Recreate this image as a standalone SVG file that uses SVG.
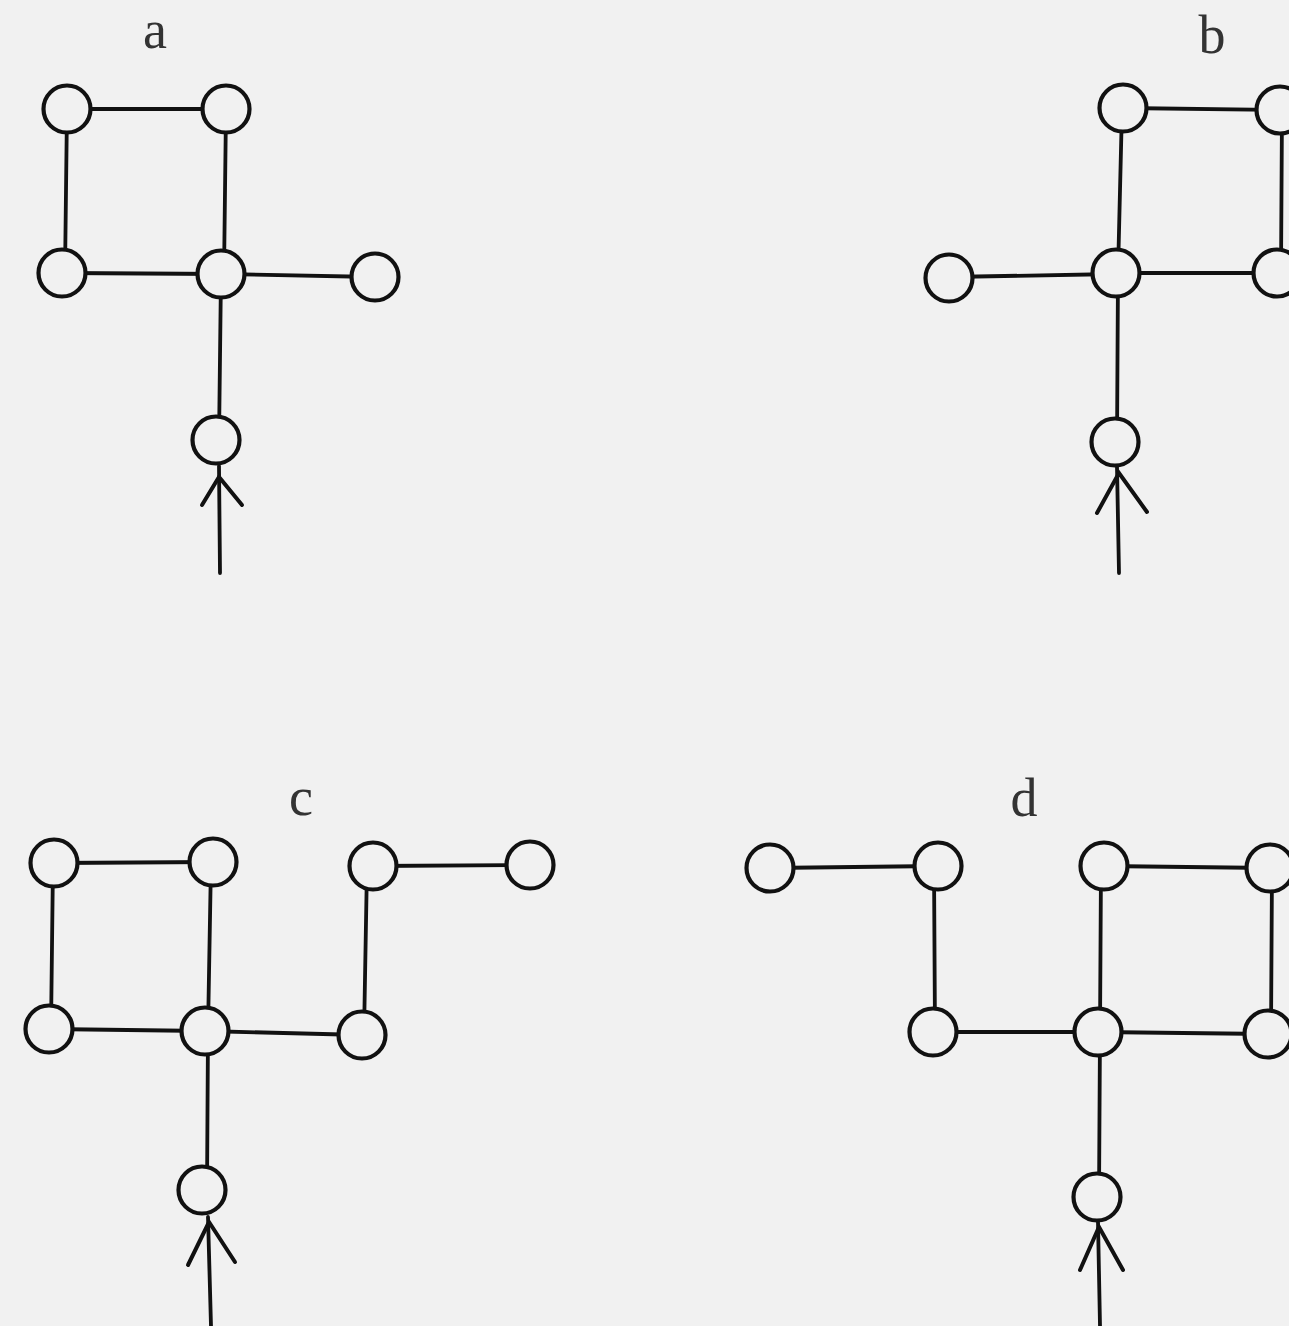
<svg xmlns="http://www.w3.org/2000/svg" width="1289" height="1326" viewBox="0 0 1289 1326">
<style>
.n{fill:#f1f1f1;stroke:#111;stroke-width:4.2}
.e{stroke:#111;stroke-width:3.8;fill:none;stroke-linecap:round}
.w{stroke:#111;stroke-width:4;fill:none;stroke-linecap:round;stroke-linejoin:miter}
.l{font-family:"Liberation Serif",serif;font-size:54px;fill:#333;text-anchor:middle}
</style>
<rect width="1289" height="1326" fill="#f1f1f1"/>
<g id="labels">
<text class="l" x="155" y="48">a</text>
<text class="l" x="1212" y="53">b</text>
<text class="l" x="301" y="815">c</text>
<text class="l" x="1024" y="816">d</text>
</g>
<g id="connectors">
<!-- a -->
<line class="e" x1="67" y1="109" x2="226" y2="109"/>
<line class="e" x1="67" y1="109" x2="65" y2="273"/>
<line class="e" x1="226" y1="109" x2="224" y2="274"/>
<line class="e" x1="64" y1="273" x2="222" y2="274"/>
<line class="e" x1="222" y1="274" x2="375" y2="277"/>
<line class="e" x1="221" y1="274" x2="219" y2="440"/>
<line class="e" x1="220" y1="573" x2="219" y2="466"/>
<polyline class="w" points="202,505 219,477 242,505"/>
<!-- b -->
<line class="e" x1="1123" y1="108" x2="1280" y2="110"/>
<line class="e" x1="1122" y1="108" x2="1118" y2="273"/>
<line class="e" x1="1282" y1="110" x2="1281" y2="273"/>
<line class="e" x1="949" y1="277" x2="1116" y2="274"/>
<line class="e" x1="1116" y1="273" x2="1277" y2="273"/>
<line class="e" x1="1118" y1="273" x2="1117" y2="442"/>
<line class="e" x1="1119" y1="573" x2="1117" y2="467"/>
<polyline class="w" points="1097,513 1119,473 1147,512"/>
<!-- c -->
<line class="e" x1="54" y1="863" x2="213" y2="862"/>
<line class="e" x1="53" y1="863" x2="51" y2="1029"/>
<line class="e" x1="211" y1="862" x2="208" y2="1031"/>
<line class="e" x1="373" y1="866" x2="530" y2="865"/>
<line class="e" x1="367" y1="866" x2="364" y2="1035"/>
<line class="e" x1="49" y1="1029" x2="205" y2="1031"/>
<line class="e" x1="205" y1="1031" x2="362" y2="1035"/>
<line class="e" x1="208" y1="1031" x2="207" y2="1190"/>
<line class="e" x1="211" y1="1326" x2="208" y2="1217"/>
<polyline class="w" points="188,1265 209,1222 235,1262"/>
<!-- d -->
<line class="e" x1="770" y1="868" x2="938" y2="866"/>
<line class="e" x1="934" y1="866" x2="935" y2="1032"/>
<line class="e" x1="1104" y1="866" x2="1270" y2="868"/>
<line class="e" x1="1101" y1="866" x2="1100" y2="1032"/>
<line class="e" x1="1272" y1="868" x2="1271" y2="1034"/>
<line class="e" x1="933" y1="1032" x2="1098" y2="1032"/>
<line class="e" x1="1098" y1="1032" x2="1268" y2="1034"/>
<line class="e" x1="1100" y1="1032" x2="1099" y2="1197"/>
<line class="e" x1="1100" y1="1326" x2="1098" y2="1222"/>
<polyline class="w" points="1080,1270 1099,1227 1123,1270"/>
</g>
<g id="a1"><circle class="n" cx="67" cy="109" r="23.5"/></g>
<g id="a2"><circle class="n" cx="226" cy="109" r="23.5"/></g>
<g id="a3"><circle class="n" cx="62" cy="273" r="23.5"/></g>
<g id="a4"><circle class="n" cx="221" cy="274" r="23.5"/></g>
<g id="a5"><circle class="n" cx="375" cy="277" r="23.5"/></g>
<g id="a6"><circle class="n" cx="216" cy="440" r="23.5"/></g>
<g id="b1"><circle class="n" cx="1123" cy="108" r="23.5"/></g>
<g id="b2"><circle class="n" cx="1280" cy="110" r="23.5"/></g>
<g id="b3"><circle class="n" cx="949" cy="278" r="23.5"/></g>
<g id="b4"><circle class="n" cx="1116" cy="273" r="23.5"/></g>
<g id="b5"><circle class="n" cx="1277" cy="273" r="23.5"/></g>
<g id="b6"><circle class="n" cx="1115" cy="442" r="23.5"/></g>
<g id="c1"><circle class="n" cx="54" cy="863" r="23.5"/></g>
<g id="c2"><circle class="n" cx="213" cy="862" r="23.5"/></g>
<g id="c3"><circle class="n" cx="373" cy="866" r="23.5"/></g>
<g id="c4"><circle class="n" cx="530" cy="865" r="23.5"/></g>
<g id="c5"><circle class="n" cx="49" cy="1029" r="23.5"/></g>
<g id="c6"><circle class="n" cx="205" cy="1031" r="23.5"/></g>
<g id="c7"><circle class="n" cx="362" cy="1035" r="23.5"/></g>
<g id="c8"><circle class="n" cx="202" cy="1190" r="23.5"/></g>
<g id="d1"><circle class="n" cx="770" cy="868" r="23.5"/></g>
<g id="d2"><circle class="n" cx="938" cy="866" r="23.5"/></g>
<g id="d3"><circle class="n" cx="1104" cy="866" r="23.5"/></g>
<g id="d4"><circle class="n" cx="1270" cy="868" r="23.5"/></g>
<g id="d5"><circle class="n" cx="933" cy="1032" r="23.5"/></g>
<g id="d6"><circle class="n" cx="1098" cy="1032" r="23.5"/></g>
<g id="d7"><circle class="n" cx="1268" cy="1034" r="23.5"/></g>
<g id="d8"><circle class="n" cx="1097" cy="1197" r="23.5"/></g>
</svg>
